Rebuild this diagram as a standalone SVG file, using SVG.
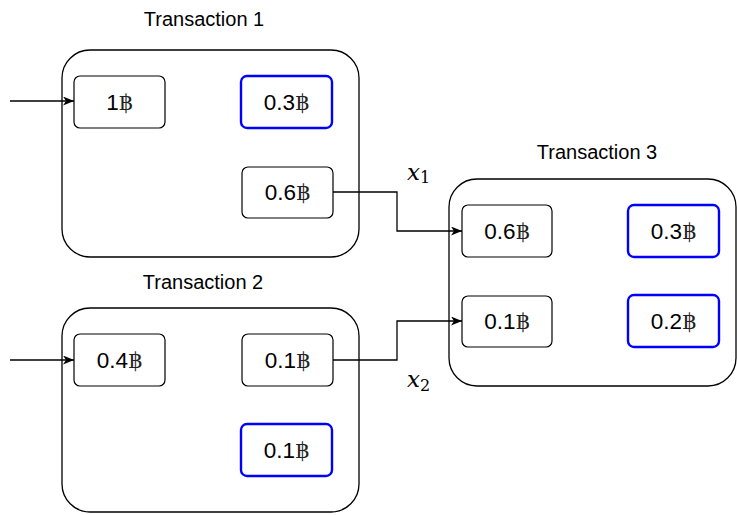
<svg xmlns="http://www.w3.org/2000/svg" width="737" height="515" viewBox="0 0 737 515">
<style>
.box{fill:none;stroke:#000;stroke-width:1.3}
.nd{fill:#fff;stroke:#000;stroke-width:1.2}
.bl{fill:#fff;stroke:#0000FF;stroke-width:2.4}
.t{font-family:"Liberation Sans","DejaVu Sans",sans-serif;font-size:22.5px;text-anchor:middle;fill:#000}
.b{font-family:"DejaVu Serif",serif;font-size:22px;fill:#222}
.title{font-family:"Liberation Sans","DejaVu Sans",sans-serif;font-size:20px;text-anchor:middle;fill:#000}
.m{font-family:"DejaVu Serif","Liberation Serif",serif;fill:#000}
.c{fill:none;stroke:#000;stroke-width:1.3}
</style>
<defs>
<marker id="ah" markerWidth="12" markerHeight="9" refX="11" refY="4.5" orient="auto" markerUnits="userSpaceOnUse">
<path d="M0,0 L11,4.5 L0,9 L3,4.5 z" fill="#000"/>
</marker>
</defs>
<rect width="737" height="515" fill="#fff"/>
<g id="tx1">
<rect class="box" x="62" y="50" width="297" height="207" rx="28"/>
<text class="title" x="204" y="26">Transaction 1</text>
</g>
<g id="tx2">
<rect class="box" x="62" y="308" width="297" height="204" rx="28"/>
<text class="title" x="203" y="289">Transaction 2</text>
</g>
<g id="tx3">
<rect class="box" x="449" y="179" width="287" height="207" rx="28"/>
<text class="title" x="597" y="159">Transaction 3</text>
</g>
<g id="n1"><rect class="nd" x="74" y="76" width="91" height="52" rx="6"/><text class="t" x="119.5" y="110">1<tspan class="b">฿</tspan></text></g>
<g id="n2"><rect class="bl" x="241" y="76" width="91" height="52" rx="6"/><text class="t" x="286.5" y="110">0.3<tspan class="b">฿</tspan></text></g>
<g id="n3"><rect class="nd" x="242" y="167" width="91" height="51" rx="6"/><text class="t" x="287.5" y="200">0.6<tspan class="b">฿</tspan></text></g>
<g id="n4"><rect class="nd" x="74" y="334" width="91" height="52" rx="6"/><text class="t" x="119.5" y="368">0.4<tspan class="b">฿</tspan></text></g>
<g id="n5"><rect class="nd" x="242" y="334" width="91" height="52" rx="6"/><text class="t" x="287.5" y="368">0.1<tspan class="b">฿</tspan></text></g>
<g id="n6"><rect class="bl" x="241" y="424" width="91" height="52" rx="6"/><text class="t" x="286.5" y="458">0.1<tspan class="b">฿</tspan></text></g>
<g id="n7"><rect class="nd" x="462" y="205" width="90" height="52" rx="6"/><text class="t" x="507" y="239">0.6<tspan class="b">฿</tspan></text></g>
<g id="n8"><rect class="bl" x="628" y="205" width="91" height="52" rx="6"/><text class="t" x="673.5" y="239">0.3<tspan class="b">฿</tspan></text></g>
<g id="n9"><rect class="nd" x="462" y="296" width="90" height="51" rx="6"/><text class="t" x="507" y="329">0.1<tspan class="b">฿</tspan></text></g>
<g id="n10"><rect class="bl" x="628" y="295" width="91" height="52" rx="6"/><text class="t" x="673.5" y="329">0.2<tspan class="b">฿</tspan></text></g>
<g id="connectors">
<path class="c" d="M10,101 H74" marker-end="url(#ah)"/>
<path class="c" d="M10,360 H74" marker-end="url(#ah)"/>
<path class="c" d="M333,192 H397 V231 H462" marker-end="url(#ah)"/>
<path class="c" d="M333,360 H397 V321 H462" marker-end="url(#ah)"/>
</g>
<g id="labels">
<text class="m" x="407" y="180" font-size="23" font-style="italic">x<tspan font-size="16" font-style="normal" dy="3">1</tspan></text>
<text class="m" x="407" y="387" font-size="23" font-style="italic">x<tspan font-size="16" font-style="normal" dy="4">2</tspan></text>
</g>
</svg>
